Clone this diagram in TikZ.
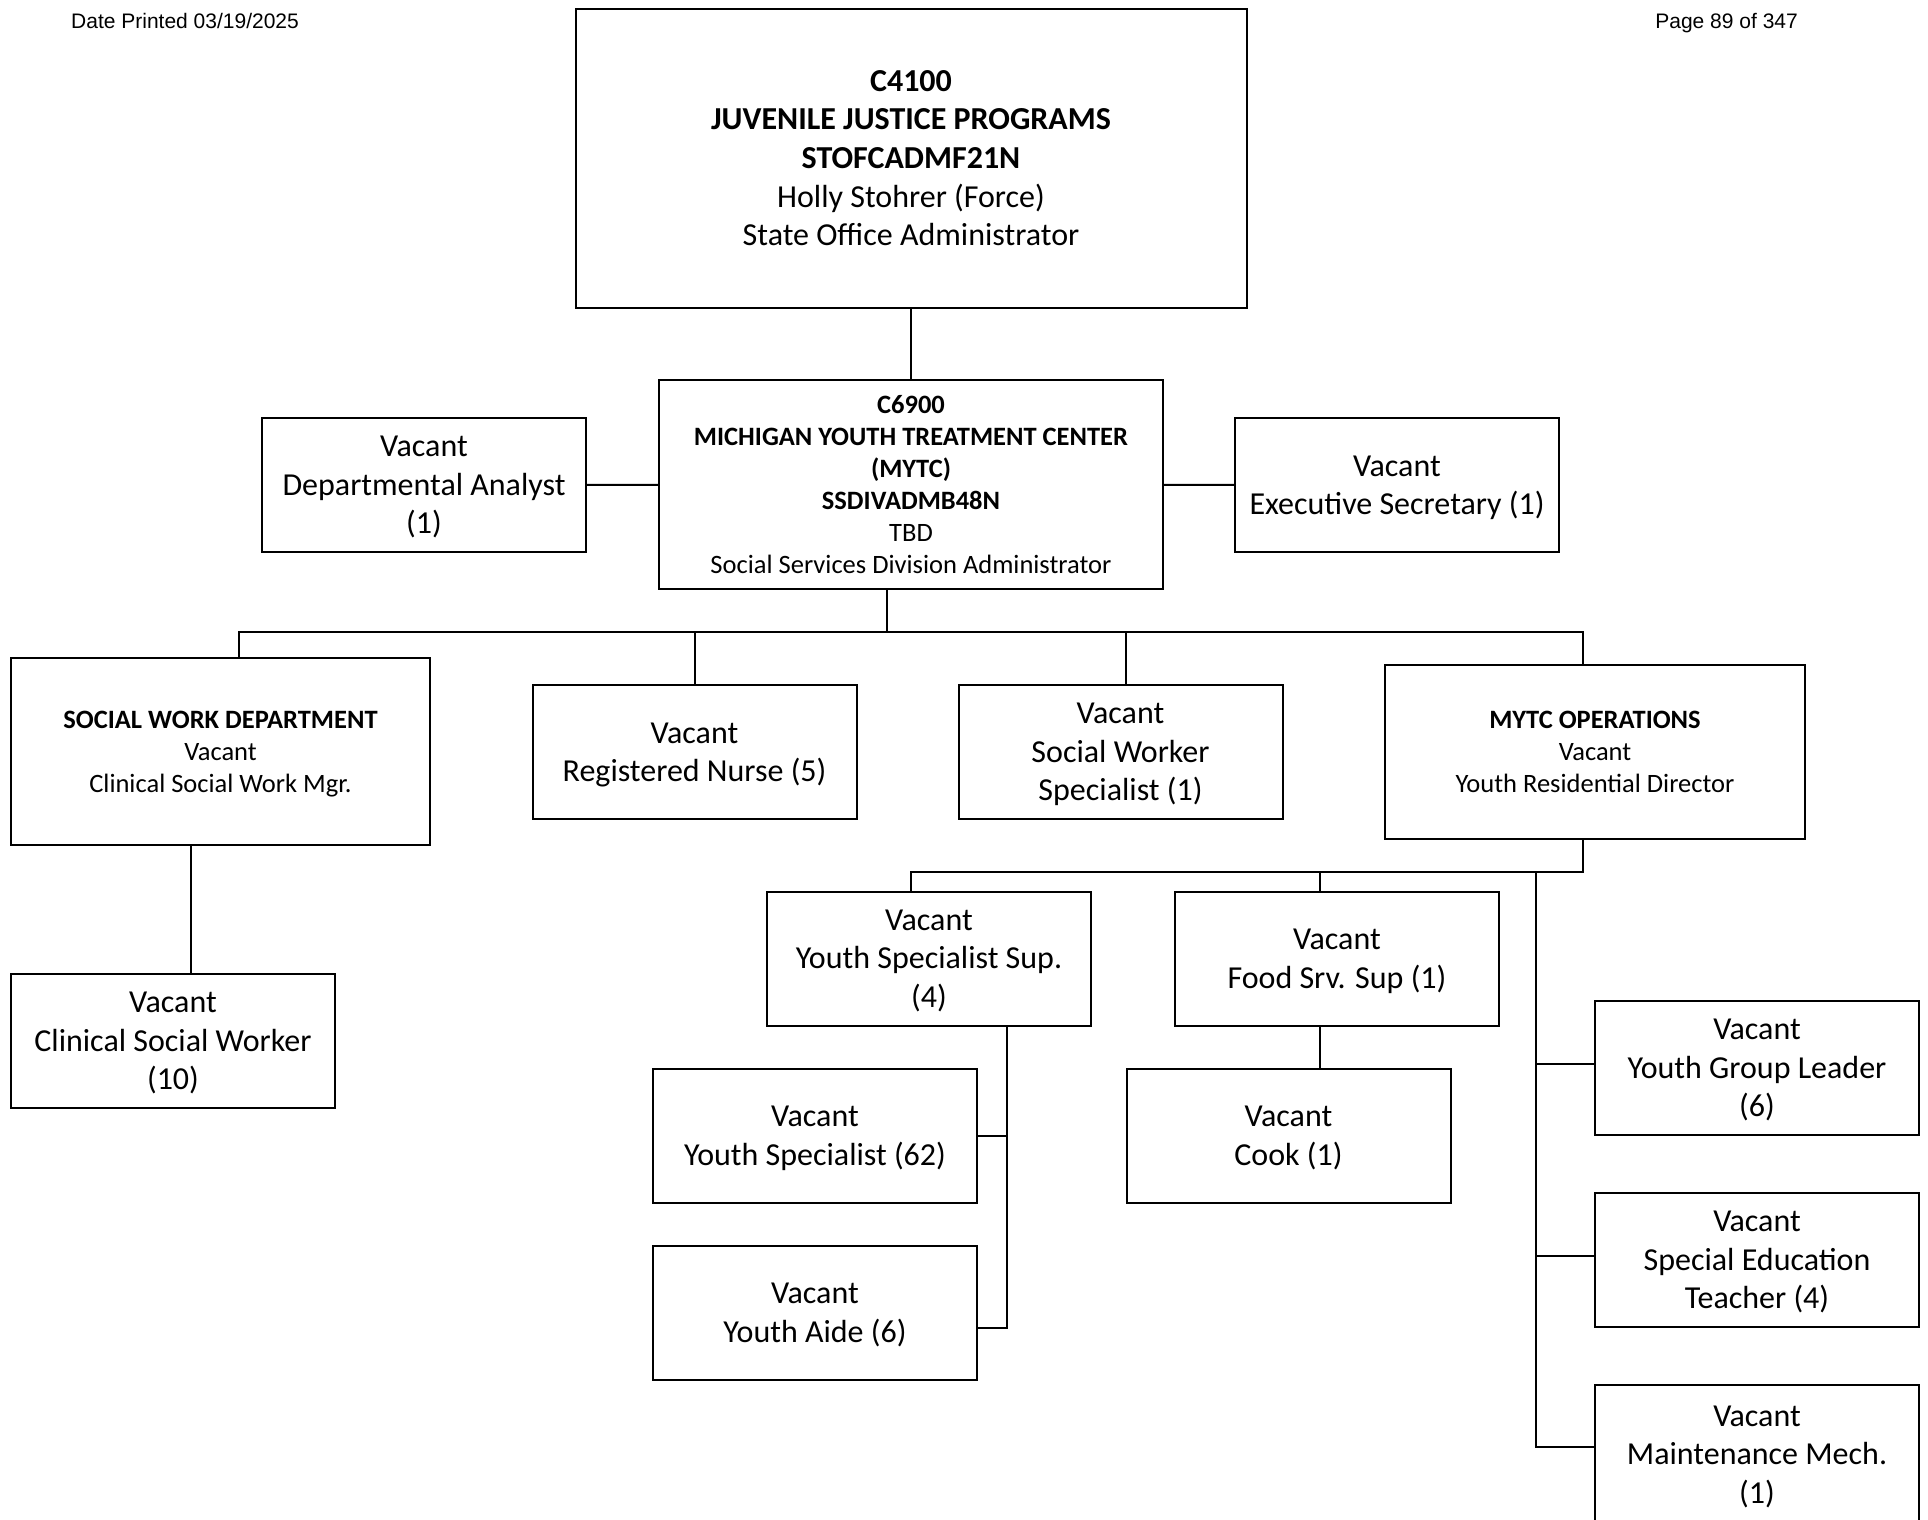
\documentclass[tikz,border=0pt]{standalone}
\usepackage{fontspec}
\setmainfont{Carlito}
\newfontfamily\headfont{Liberation Sans}
\usetikzlibrary{positioning}

\tikzset{
  box/.style={draw, line width=2pt, rectangle, inner sep=0pt, align=center,
    text depth=0pt, minimum width=324pt, minimum height=134pt, font=\bigtext},
  smallbox/.style={box, font=\smalltext},
  link/.style={line width=2pt},
  header/.style={font=\headfont\fontsize{21}{24}\selectfont, inner sep=0pt},
}
\newcommand{\bigtext}{\fontsize{32}{38.5}\selectfont}
\newcommand{\smalltext}{\fontsize{26.5}{32}\selectfont}

\begin{document}
\begin{tikzpicture}[x=1pt, y=-1pt]
  \useasboundingbox (0,0) rectangle (1928,1519);

  % page header
  \node[header, anchor=base west] (dateline) at (71,28.5) {Date Printed 03/19/2025};
  \node[header, anchor=base east] (pageline) at (1798,28.5) {Page 89 of 347};

  % top levels
  \node[box, minimum width=671pt, minimum height=299pt] (jjp) at (911,158)
    {\textbf{C4100}\\\textbf{JUVENILE JUSTICE PROGRAMS}\\\textbf{STOFCADMF21N}\\Holly Stohrer (Force)\\State Office Administrator};
  \node[smallbox, minimum width=504pt, minimum height=209pt] (mytc) at (911,484.5)
    {\textbf{C6900}\\\textbf{MICHIGAN YOUTH TREATMENT CENTER}\\\textbf{(MYTC)}\\\textbf{SSDIVADMB48N}\\TBD\\Social Services Division Administrator};
  \node[box] (analyst) at (424,485) {Vacant\\Departmental Analyst\\(1)};
  \node[box] (execsec) at (1397,485) {Vacant\\Executive Secretary (1)};

  % second row
  \node[smallbox, minimum width=419pt, minimum height=187pt] (swdept) at (220.5,751.5)
    {\textbf{SOCIAL WORK DEPARTMENT}\\Vacant\\Clinical Social Work Mgr.};
  \node[box] (nurse) at (694.5,752) {Vacant\\Registered Nurse (5)};
  \node[box] (sws) at (1120.5,752) {Vacant\\Social Worker\\Specialist (1)};
  \node[smallbox, minimum width=420pt, minimum height=174pt] (ops) at (1595,752)
    {\textbf{MYTC OPERATIONS}\\Vacant\\Youth Residential Director};

  % lower rows
  \node[box] (csw) at (173,1041) {Vacant\\Clinical Social Worker\\(10)};
  \node[box] (yss) at (929,958.5) {Vacant\\Youth Specialist Sup.\\(4)};
  \node[box] (fss) at (1337,958.5) {Vacant\\Food Srv. Sup (1)};
  \node[box] (ys) at (815,1135.5) {Vacant\\Youth Specialist (62)};
  \node[box] (aide) at (815,1312.5) {Vacant\\Youth Aide (6)};
  \node[box] (cook) at (1288.5,1135.5) {Vacant\\Cook (1)};
  \node[box] (ygl) at (1757,1068) {Vacant\\Youth Group Leader\\(6)};
  \node[box] (set) at (1757,1260) {Vacant\\Special Education\\Teacher (4)};
  \node[box, minimum height=140pt] (mech) at (1757,1454.5) {Vacant\\Maintenance Mech.\\(1)};

  % connectors
  \draw[link] (jjp) -- (mytc);
  \draw[link] (analyst) -- (mytc);
  \draw[link] (mytc) -- (execsec);

  \coordinate (busmid) at (886.5,632);
  \coordinate (busL) at (238.5,632);
  \coordinate (busR) at (1582.5,632);
  \coordinate (swsdrop) at (1126,632);
  \draw[link] (busmid |- mytc.south) -- (busmid);
  \draw[link] (busL |- swdept.north) -- (busL) -- (busR) -- (busR |- ops.north);
  \draw[link] (nurse.north) -- (nurse.north |- busL);
  \draw[link] (swsdrop |- sws.north) -- (swsdrop);

  \coordinate (swdrop) at (190.5,0);
  \draw[link] (swdrop |- swdept.south) -- (swdrop |- csw.north);

  \coordinate (opsbus) at (1582.5,872);
  \coordinate (yssdrop) at (911,872);
  \coordinate (fssdrop) at (1319.5,872);
  \coordinate (spine) at (1536,872);
  \draw[link] (opsbus |- ops.south) -- (opsbus) -- (yssdrop) -- (yssdrop |- yss.north);
  \draw[link] (fssdrop) -- (fssdrop |- fss.north);
  \draw[link] (fssdrop |- fss.south) -- (fssdrop |- cook.north);
  \coordinate (yglarm) at (1536,1063.5);
  \coordinate (setarm) at (1536,1255.5);
  \coordinate (mecharm) at (1536,1447);
  \draw[link] (spine) -- (mecharm) -- (mecharm -| mech.west);
  \draw[link] (yglarm) -- (yglarm -| ygl.west);
  \draw[link] (setarm) -- (setarm -| set.west);

  \coordinate (yssv) at (1007,1328);
  \draw[link] (yssv |- yss.south) -- (yssv) -- (yssv -| aide.east);
  \draw[link] (ys.east) -- (ys.east -| yssv);
\end{tikzpicture}
\end{document}
